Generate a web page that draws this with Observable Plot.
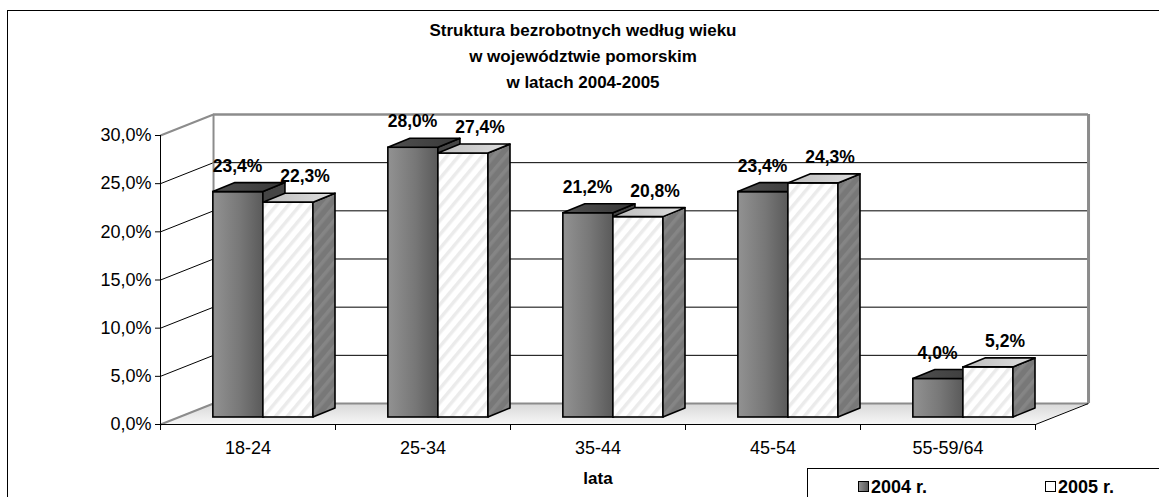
<!DOCTYPE html>
<html>
<head>
<meta charset="utf-8">
<script src="https://cdn.jsdelivr.net/npm/d3@7"></script>
<script src="https://cdn.jsdelivr.net/npm/@observablehq/plot@0.6"></script>
<style>
  html, body { margin: 0; padding: 0; background: #fff; }
  body { font-family: "Liberation Sans", Arial, sans-serif; color: #000; }
  #wrap { position: relative; width: 1159px; height: 497px; overflow: hidden; }
  #border { position: absolute; left: 7px; top: 10px; width: 1300px; height: 700px; border: 1px solid #000; box-sizing: border-box; }
  #title { position: absolute; left: 0; top: 18px; width: 1166px; text-align: center; font-weight: bold; font-size: 17px; line-height: 26px; }
  #chart { position: absolute; left: 0; top: 0; }
  #legend { position: absolute; left: 807px; top: 468px; width: 600px; height: 100px; border: 1px solid #000; box-sizing: border-box; background: #fff; }
  .item { position: absolute; top: 8px; font-weight: bold; font-size: 18px; line-height: 20px; white-space: nowrap; }
  .sw { display: inline-block; width: 9px; height: 9px; border: 1px solid #000; margin-right: 2px; vertical-align: 1px; }
</style>
</head>
<body>
<div id="wrap">
  <div id="border"></div>
  <div id="title"></div>
  <div id="chart"></div>
  <div id="legend"></div>
</div>
<script>
// ---- data ----
const categories = ["18-24", "25-34", "35-44", "45-54", "55-59/64"];
const values2004 = [23.4, 28.0, 21.2, 23.4, 4.0];
const values2005 = [22.3, 27.4, 20.8, 24.3, 5.2];
const seriesNames = ["2004 r.", "2005 r."];
const yTicks = [0, 5, 10, 15, 20, 25, 30];
const titleLines = ["Struktura bezrobotnych według wieku", "w województwie pomorskim", "w latach 2004-2005"];
const xLabel = "lata";

// ---- 3D geometry (in scale units) ----
const nCat = categories.length;
const yMax = d3.max(yTicks);
const WDX = 0.303, WDY = 2.18;   // wall depth
const BASE = 0.727;              // bar base above front floor
const BDX = 0.126, BDY = 0.934;  // bar depth
const barStart = 0.302, barW = 0.286;
const labelOff = [-0.005, 0.095];
const fmt = v => v.toFixed(1).replace(".", ",") + "%";

const seriesValues = [values2004, values2005];
const bars = [];
categories.forEach((c, i) => {
  seriesValues.forEach((vals, s) => {
    const v = vals[i];
    const x1 = i + barStart + s * barW, x2 = x1 + barW;
    bars.push({c, i, s, v, x1, x2, y1: BASE, y2: BASE + v});
  });
});
const tops = bars.flatMap((b, k) => [
  {k, s: b.s, y: b.y2, x1: b.x1, x2: b.x2},
  {k, s: b.s, y: b.y2 + BDY, x1: b.x1 + BDX, x2: b.x2 + BDX}
]);
const sides = bars.flatMap((b, k) => [
  {k, s: b.s, x: b.x2, y1: b.y1, y2: b.y2},
  {k, s: b.s, x: b.x2 + BDX, y1: b.y1 + BDY, y2: b.y2 + BDY}
]);
const floor = [{y: 0, x1: 0, x2: nCat}, {y: WDY, x1: WDX, x2: nCat + WDX}];

const frontFill = ["url(#g04front)", "url(#hatchW)"];
const topFill = ["url(#g04top)", "url(#g05top)"];
const sideFill = ["#454545", "url(#hatchG)"];

const barMarks = [0, 1].flatMap(s => [
  Plot.rectY(bars.filter(b => b.s === s), {x1: "x1", x2: "x2", y1: "y1", y2: "y2", fill: frontFill[s], stroke: "#000", strokeWidth: 1.6}),
  Plot.areaY(sides.filter(d => d.s === s), {x: "x", y1: "y1", y2: "y2", z: "k", fill: sideFill[s], stroke: "#000", strokeWidth: 1.6, strokeLinejoin: "round"}),
  Plot.areaX(tops.filter(d => d.s === s), {y: "y", x1: "x1", x2: "x2", z: "k", fill: topFill[s], stroke: "#000", strokeWidth: 1.6, strokeLinejoin: "round"})
]);

const inner = yTicks.filter(t => t > 0 && t < yMax);

const svg = Plot.plot({
  width: 1159,
  height: 497,
  marginLeft: 160,
  marginRight: 124,
  marginTop: 135,
  marginBottom: 73,
  x: {type: "linear", domain: [0, nCat], axis: null},
  y: {type: "linear", domain: [0, yMax], axis: null},
  style: {fontFamily: "'Liberation Sans', Arial, sans-serif", background: "transparent", color: "#000", overflow: "visible"},
  marks: [
    // floor
    Plot.areaX(floor, {y: "y", x1: "x1", x2: "x2", fill: "url(#gfloor)"}),
    // back wall gridlines
    Plot.ruleY(inner, {y: t => t + WDY, x1: WDX, x2: nCat + WDX, stroke: "#000", strokeWidth: 1}),
    // left wall diagonals
    Plot.link(inner, {x1: 0, y1: t => t, x2: WDX, y2: t => t + WDY, stroke: "#000", strokeWidth: 1}),
    // wall outlines (grey)
    Plot.link([0, yMax], {x1: 0, y1: t => t, x2: WDX, y2: t => t + WDY, stroke: "#8c8c8c", strokeWidth: 2}),
    Plot.ruleY([yMax + WDY], {x1: WDX, x2: nCat + WDX, stroke: "#8c8c8c", strokeWidth: 2.5}),
    Plot.ruleY([WDY], {x1: WDX, x2: nCat + WDX, stroke: "#8c8c8c", strokeWidth: 2}),
    Plot.ruleX([WDX], {y1: WDY, y2: yMax + WDY, stroke: "#8c8c8c", strokeWidth: 2}),
    Plot.ruleX([nCat + WDX], {y1: WDY, y2: yMax + WDY, stroke: "#8c8c8c", strokeWidth: 3}),
    // floor right edge
    Plot.link([nCat], {x1: d => d, y1: 0, x2: d => d + WDX, y2: WDY, stroke: "#000", strokeWidth: 1}),
    // bars
    ...barMarks,
    // axes
    Plot.ruleX([0], {y1: 0, y2: yMax, stroke: "#000", strokeWidth: 1}),
    Plot.axisY({ticks: yTicks, tickFormat: fmt, tickSize: 5, tickPadding: 4, fontSize: 18, label: null}),
    Plot.ruleY([0], {x1: 0, x2: nCat, stroke: "#000", strokeWidth: 1}),
    Plot.axisX({ticks: d3.range(nCat + 1), tickFormat: () => "", tickSize: 6, label: null}),
    Plot.text(categories, {x: (d, i) => i + 0.5, y: 0, dy: 24, fontSize: 18}),
    Plot.text([xLabel], {frameAnchor: "bottom", lineAnchor: "middle", dy: 54, fontSize: 17, fontWeight: "bold"}),
    // data labels
    Plot.text(bars, {x: b => b.x1 + barW / 2 + labelOff[b.s], y: "y2", dy: -26, text: b => fmt(b.v), fontSize: 17.5, fontWeight: "bold"})
  ]
});

d3.select(svg).insert("defs", ":first-child").html(`
  <linearGradient id="g04front" x1="0" x2="1" y1="0" y2="0">
    <stop offset="0" stop-color="#929292"/><stop offset="0.55" stop-color="#777"/><stop offset="1" stop-color="#5a5a5a"/>
  </linearGradient>
  <linearGradient id="g04top" x1="0" x2="1" y1="0" y2="0">
    <stop offset="0" stop-color="#505050"/><stop offset="1" stop-color="#383838"/>
  </linearGradient>
  <linearGradient id="g05top" x1="0" x2="1" y1="0" y2="0">
    <stop offset="0" stop-color="#bdbdbd"/><stop offset="1" stop-color="#dedede"/>
  </linearGradient>
  <linearGradient id="gfloor" x1="0" x2="0" y1="0" y2="1">
    <stop offset="0" stop-color="#d8d8d8"/><stop offset="1" stop-color="#f6f6f6"/>
  </linearGradient>
  <pattern id="hatchW" width="9" height="9" patternUnits="userSpaceOnUse" patternTransform="rotate(40)">
    <rect width="9" height="9" fill="#ffffff"/><rect width="3.5" height="9" fill="#ebebeb"/>
  </pattern>
  <pattern id="hatchG" width="9" height="9" patternUnits="userSpaceOnUse" patternTransform="rotate(40)">
    <rect width="9" height="9" fill="#787878"/><rect width="3.5" height="9" fill="#858585"/>
  </pattern>
`);

document.getElementById("chart").appendChild(svg);

document.getElementById("title").innerHTML = titleLines.map(t => `<div>${t}</div>`).join("");

const legendPos = [50, 237];
const swatchFill = ["linear-gradient(to right, #929292, #5a5a5a)", "#fff"];
document.getElementById("legend").innerHTML = seriesNames.map((n, s) =>
  `<div class="item" style="left:${legendPos[s]}px"><span class="sw" style="background:${swatchFill[s]}"></span>${n}</div>`
).join("");
</script>
</body>
</html>
